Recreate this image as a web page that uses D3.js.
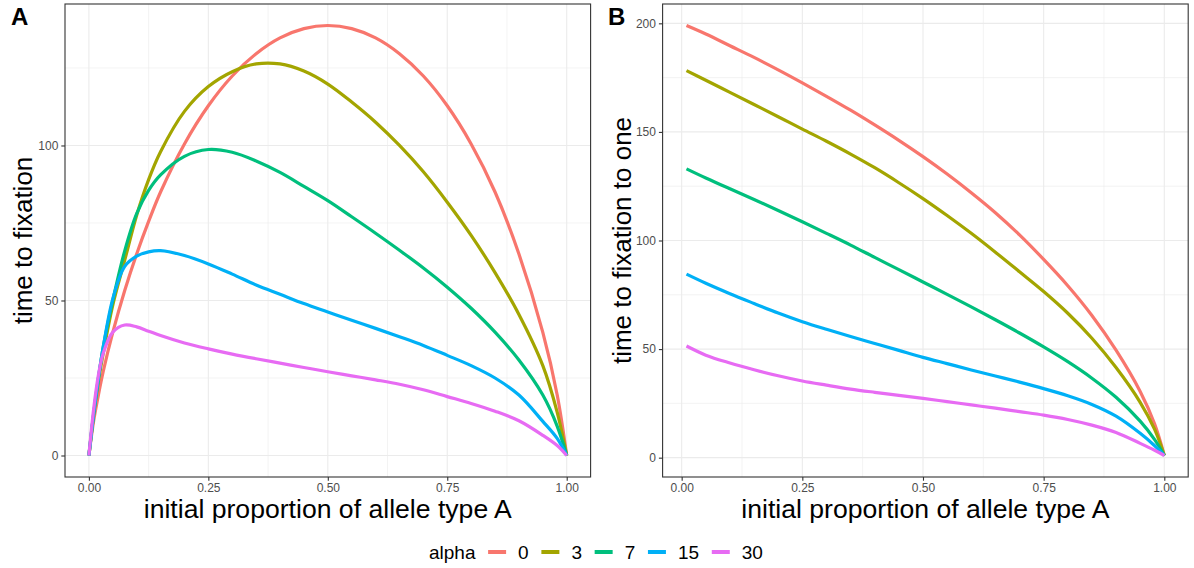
<!DOCTYPE html>
<html>
<head>
<meta charset="utf-8">
<script src="https://cdn.jsdelivr.net/npm/d3@7/dist/d3.min.js"></script>
<style>
  body { margin: 0; background: #fff; }
  svg { display: block; font-family: "Liberation Sans", Arial, sans-serif; }
</style>
</head>
<body>
<svg id="chart" width="1194" height="568"></svg>
<script>
// legend levels and ggplot hue colours
const alphaLevels = ['0', '3', '7', '15', '30']
const alphaColors = ['#F8766D', '#A3A500', '#00BF7D', '#00B0F6', '#E76BF3']

// panel A: time to fixation
const propA = [0, 0.01, 0.02, 0.03, 0.05, 0.075, 0.1, 0.125, 0.15, 0.2, 0.25, 0.3, 0.35, 0.4, 0.45, 0.5,
	0.55, 0.6, 0.65, 0.7, 0.75, 0.8, 0.85, 0.9, 0.95, 0.98, 1]
const timeA0 = [0, 11.2, 19.6, 27.1, 39.7, 53.2, 65, 75.5, 85, 100.5, 112.8, 122.4, 129.6, 134.7, 137.7, 138.7,
	137.7, 134.7, 129.6, 122.4, 112.8, 100.5, 85, 65, 39.7, 19.6, 0]
const timeA3 = [0, 13, 24, 33, 48.5, 63, 77.5, 89, 98, 111, 119, 123.8, 126.3, 126.3, 124, 119.8,
	114, 107.5, 100, 91.5, 81.7, 71, 59, 45.5, 29, 14, 0]
const timeA7 = [0, 13.5, 25, 35, 50, 66, 78, 85.5, 90.5, 96.5, 98.7, 97.8, 95, 91.3, 86.8, 82.2,
	77, 71.7, 66.2, 60.5, 54.3, 47.5, 39.8, 30.8, 19.5, 9.5, 0]
const timeA15 = [0, 13.5, 25, 35, 50.5, 61, 64.3, 65.7, 66.1, 64.5, 61.8, 58.5, 55, 52, 49, 46.3,
	43.6, 41, 38.3, 35.5, 32.3, 29, 25, 19.5, 11, 5.5, 0]
const timeA30 = [0, 15, 26, 33, 39.8, 42.1, 41.5, 40.1, 38.7, 36.3, 34.4, 32.7, 31.2, 29.8, 28.4, 27,
	25.7, 24.4, 23, 21.2, 19, 16.8, 14.3, 11.2, 6.5, 3.2, 0]

// panel B: time to fixation to one
const propB = [0.01, 0.05, 0.1, 0.15, 0.2, 0.25, 0.3, 0.35, 0.4, 0.45, 0.5,
	0.55, 0.6, 0.65, 0.7, 0.75, 0.8, 0.85, 0.9, 0.95, 0.98, 1]
const timeB0 = [199, 195.1, 189.7, 184.3, 178.6, 172.6, 166.4, 160, 153.2, 146.1, 138.6,
	130.6, 122, 112.8, 102.6, 91.3, 79.2, 65.5, 49.5, 30.5, 15.5, 1]
const timeB3 = [178.2, 173.8, 168.2, 162.6, 157, 151.3, 145.7, 139.8, 133.5, 126.6, 119.3,
	111.5, 103.3, 94.6, 85.6, 76.5, 66.5, 55, 41.5, 25.5, 13, 1]
const timeB7 = [133, 128.8, 123.8, 118.9, 113.8, 108.6, 103.3, 97.9, 92.2, 86.6, 80.9,
	75.2, 69.4, 63.5, 57.4, 51, 44.2, 36.6, 27.8, 16.8, 8.3, 1]
const timeB15 = [84.5, 80.3, 75.5, 71, 66.6, 62.6, 59.1, 55.8, 52.6, 49.4, 46.2,
	43.3, 40.4, 37.6, 34.8, 31.8, 28.5, 24.5, 19.1, 11.2, 5.5, 1]
const timeB30 = [51.4, 47.2, 43.6, 40.5, 37.7, 35.3, 33.4, 31.6, 30.1, 28.7, 27.3,
	25.8, 24.3, 22.8, 21.2, 19.6, 17.6, 15, 11.6, 6.6, 3.4, 1]

const xBreaks = [0, 0.25, 0.5, 0.75, 1]
const yBreaksA = [0, 50, 100]
const yBreaksB = [0, 50, 100, 150, 200]
const xTitle = 'initial proportion of allele type A'

const svg = d3.select('#chart')

// ggplot style 5% expansion
const expand = ext => {
	const pad = (ext[1] - ext[0]) * 0.05
	return [ext[0] - pad, ext[1] + pad]
}

const drawPanel = (opt) => {
	const g = svg.append('g')
	const allY = opt.series.flat()
	const x = d3.scaleLinear().domain(expand(d3.extent(opt.xs))).range([opt.left, opt.right])
	const y = d3.scaleLinear().domain(expand(d3.extent(allY))).range([opt.bottom, opt.top])

	// minor grid
	const xMinor = d3.range(0.125, 1, 0.25)
	const step = opt.yBreaks[1] - opt.yBreaks[0]
	const yMinor = d3.range(opt.yBreaks[0] - step / 2, y.domain()[1], step).filter(v => v > y.domain()[0])
	g.selectAll('.xminor').data(xMinor).enter().append('line')
		.attr('x1', d => x(d)).attr('x2', d => x(d)).attr('y1', opt.top).attr('y2', opt.bottom)
		.attr('stroke', '#EBEBEB').attr('stroke-width', 0.6)
	g.selectAll('.yminor').data(yMinor).enter().append('line')
		.attr('y1', d => y(d)).attr('y2', d => y(d)).attr('x1', opt.left).attr('x2', opt.right)
		.attr('stroke', '#EBEBEB').attr('stroke-width', 0.6)
	// major grid
	g.selectAll('.xmajor').data(xBreaks).enter().append('line')
		.attr('x1', d => x(d)).attr('x2', d => x(d)).attr('y1', opt.top).attr('y2', opt.bottom)
		.attr('stroke', '#EBEBEB').attr('stroke-width', 1.1)
	g.selectAll('.ymajor').data(opt.yBreaks).enter().append('line')
		.attr('y1', d => y(d)).attr('y2', d => y(d)).attr('x1', opt.left).attr('x2', opt.right)
		.attr('stroke', '#EBEBEB').attr('stroke-width', 1.1)

	// curves
	const line = d3.line().x((d, i) => x(opt.xs[i])).y(d => y(d)).curve(d3.curveCatmullRom.alpha(0.5))
	opt.series.forEach((s, i) => {
		g.append('path').datum(s)
			.attr('d', line)
			.attr('fill', 'none')
			.attr('stroke', alphaColors[i])
			.attr('stroke-width', 3.2)
			.attr('stroke-linejoin', 'round')
	})

	// border
	g.append('rect')
		.attr('x', opt.left).attr('y', opt.top)
		.attr('width', opt.right - opt.left).attr('height', opt.bottom - opt.top)
		.attr('fill', 'none').attr('stroke', '#333333').attr('stroke-width', 1.1)

	// axes
	const xAxis = g.append('g').attr('transform', `translate(0,${opt.bottom})`)
		.call(d3.axisBottom(x).tickValues(xBreaks).tickFormat(d3.format('.2f')).tickSize(3.7).tickPadding(3))
	const yAxis = g.append('g').attr('transform', `translate(${opt.left},0)`)
		.call(d3.axisLeft(y).tickValues(opt.yBreaks).tickFormat(d3.format('d')).tickSize(3.7).tickPadding(3))
	;[xAxis, yAxis].forEach(a => {
		a.select('.domain').remove()
		a.selectAll('.tick line').attr('stroke', '#333333').attr('stroke-width', 1.1)
		a.selectAll('.tick text').attr('fill', '#4D4D4D')
			.style('font-size', '12px').style('font-family', '"Liberation Sans", Arial, sans-serif')
	})

	// titles
	g.append('text')
		.attr('x', (opt.left + opt.right) / 2).attr('y', 518)
		.attr('text-anchor', 'middle').style('font-size', '26.6px').attr('fill', '#000')
		.text(xTitle)
	g.append('text')
		.attr('transform', `translate(${opt.yTitleX},${(opt.top + opt.bottom) / 2}) rotate(-90)`)
		.attr('text-anchor', 'middle').style('font-size', '26px').attr('fill', '#000')
		.text(opt.yTitle)
	g.append('text')
		.attr('x', opt.tagX).attr('y', 25)
		.style('font-size', '24px').style('font-weight', 'bold').attr('fill', '#000')
		.text(opt.tag)
}

drawPanel({
	left: 65, right: 590.6, top: 4, bottom: 477,
	xs: propA, series: [timeA0, timeA3, timeA7, timeA15, timeA30],
	yBreaks: yBreaksA, yTitle: 'time to fixation', yTitleX: 32, tag: 'A', tagX: 11
})
drawPanel({
	left: 662.6, right: 1188.2, top: 4, bottom: 477,
	xs: propB, series: [timeB0, timeB3, timeB7, timeB15, timeB30],
	yBreaks: yBreaksB, yTitle: 'time to fixation to one', yTitleX: 631, tag: 'B', tagX: 608
})

// legend
const legend = svg.append('g')
const legendY = 552
let lx = 429
const title = legend.append('text').attr('x', lx).attr('y', legendY).attr('dy', '0.35em')
	.style('font-size', '19px').attr('fill', '#000').text('alpha')
lx += title.node().getComputedTextLength() + 12.6
alphaLevels.forEach((lvl, i) => {
	legend.append('line')
		.attr('x1', lx).attr('x2', lx + 18).attr('y1', legendY).attr('y2', legendY)
		.attr('stroke', alphaColors[i]).attr('stroke-width', 4)
	lx += 18 + 12
	const t = legend.append('text').attr('x', lx).attr('y', legendY).attr('dy', '0.35em')
		.style('font-size', '19px').attr('fill', '#000').text(lvl)
	lx += t.node().getComputedTextLength() + 12.7
})
</script>
</body>
</html>
